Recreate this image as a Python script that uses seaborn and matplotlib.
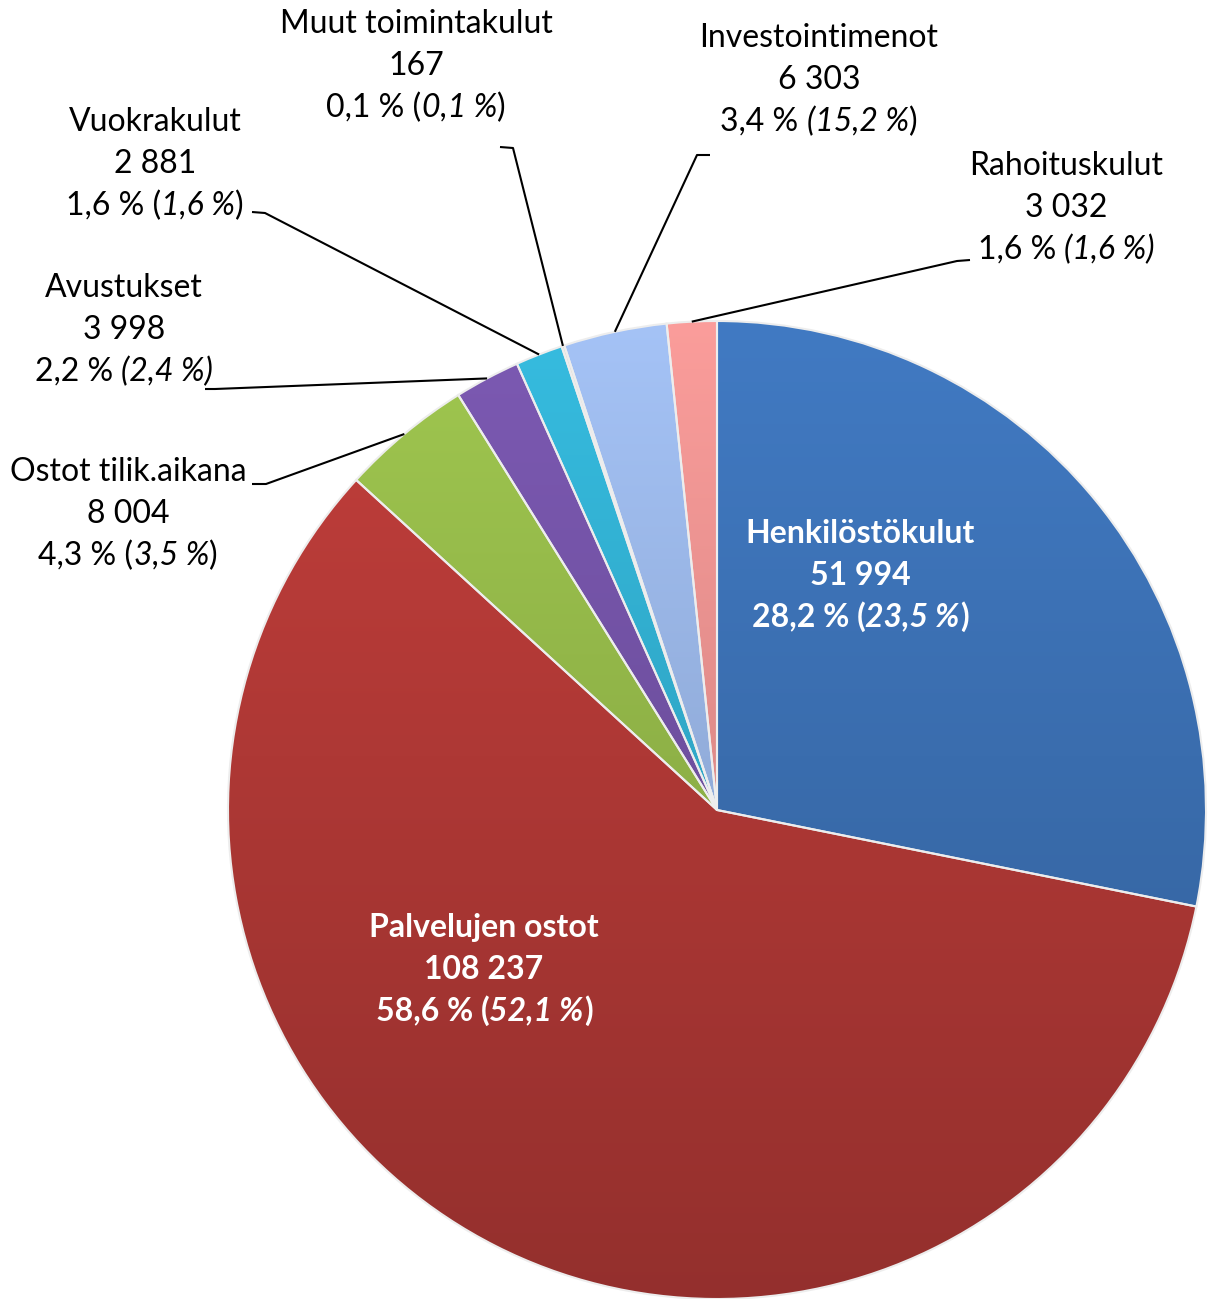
import matplotlib
matplotlib.use('Agg')
import matplotlib.pyplot as plt
import matplotlib.colors as mcolors
import seaborn as sns
import numpy as np

# data
categories = ['Henkilöstökulut', 'Palvelujen ostot', 'Ostot tilik.aikana', 'Avustukset',
              'Vuokrakulut', 'Muut toimintakulut', 'Investointimenot', 'Rahoituskulut']
values = [51994, 108237, 8004, 3998, 2881, 167, 6303, 3032]
value_labels = ['51 994', '108 237', '8 004', '3 998', '2 881', '167', '6 303', '3 032']
shares = ['28,2 %', '58,6 %', '4,3 %', '2,2 %', '1,6 %', '0,1 %', '3,4 %', '1,6 %']
prev_shares = ['23,5 %', '52,1 %', '3,5 %', '2,4 %', '1,6 %', '0,1 %', '15,2 %', '1,6 %']
# how the previous-year share is italicised in each label
italic_mode = ['inner', 'inner', 'inner', 'paren', 'inner', 'inner', 'open', 'paren']

colors = ['#3A6DAE', '#AE3835', '#8FB247', '#6F50A0', '#30A8C8', '#C9C2B4', '#93AEDC', '#E08C8A']

W, H = 1213, 1299
CX, CY, R = 717, 810, 489

# label block centres (middle line) in pixels, inside flag
label_pos = [(860, 575), (484, 969), (128, 514), (124, 330), (155, 164), (416, 66), (819, 80), (1066, 208)]
inside = [True, True, False, False, False, False, False, False]
# leader lines: start near the text and the kink, end at wedge edge
leader_pts = [None, None,
              [(252, 484), (266, 484)],
              [(205, 389), (215, 389)],
              [(252, 212), (265, 213)],
              [(500, 147), (513, 148)],
              [(710, 155), (697, 155)],
              [(970, 260), (957, 261)]]

sns.set_theme(style='white')
plt.rcParams['font.family'] = ['Lato', 'DejaVu Sans']

fig = plt.figure(figsize=(W / 100, H / 100), dpi=100)
ax = fig.add_axes([0, 0, 1, 1])

wedges, _ = ax.pie(values, colors=colors, startangle=-90, counterclock=True,
                   center=(CX, CY), radius=R, frame=True,
                   wedgeprops=dict(edgecolor='#EDEDED', linewidth=1.5))
ax.set_xlim(0, W)
ax.set_ylim(H, 0)
ax.axis('off')

# soft top-to-bottom shading inside each wedge
rows = np.linspace(CY - R, CY + R, 400)
shade = 1.12 - 0.27 * (rows - (CY - R)) / (2 * R)
for w, c in zip(wedges, colors):
    rgb = np.array(mcolors.to_rgb(c))
    img = np.clip(shade[:, None, None] * rgb[None, None, :], 0, 1)
    im = ax.imshow(img, extent=(CX - R, CX + R, CY + R, CY - R), aspect='auto',
                   interpolation='bilinear', zorder=1.5)
    im.set_clip_path(w)
    w.set_facecolor('none')
    w.set_zorder(2)
ax.set_xlim(0, W)
ax.set_ylim(H, 0)

renderer = fig.canvas.get_renderer()
FS = 23
LH = 42


def draw_line(x, y, parts, color, weight):
    texts, widths = [], []
    for s, it in parts:
        t = ax.text(0, y, s, ha='left', va='center', fontsize=FS, color=color,
                    fontweight=weight, fontstyle='italic' if it else 'normal', zorder=4)
        widths.append(t.get_window_extent(renderer=renderer).width)
        texts.append(t)
    left = x - sum(widths) / 2
    for t, w in zip(texts, widths):
        t.set_x(left)
        left += w


for i, cat in enumerate(categories):
    x, y = label_pos[i]
    color = 'white' if inside[i] else 'black'
    weight = 'bold' if inside[i] else 'normal'
    draw_line(x, y - LH, [(cat, False)], color, weight)
    draw_line(x, y, [(value_labels[i], False)], color, weight)
    mode = italic_mode[i]
    if mode == 'inner':
        parts = [(shares[i] + ' (', False), (prev_shares[i], True), (')', False)]
    elif mode == 'paren':
        parts = [(shares[i] + ' ', False), ('(' + prev_shares[i] + ')', True)]
    else:
        parts = [(shares[i] + ' ', False), ('(' + prev_shares[i], True), (')', False)]
    draw_line(x, y + LH, parts, color, weight)

    if leader_pts[i] is not None:
        w = wedges[i]
        mid = np.deg2rad((w.theta1 + w.theta2) / 2)
        ex = w.center[0] + w.r * np.cos(mid)
        ey = w.center[1] + w.r * np.sin(mid)
        pts = leader_pts[i] + [(ex, ey)]
        ax.plot([p[0] for p in pts], [p[1] for p in pts], color='black', lw=1.5,
                solid_capstyle='butt', zorder=3)

fig.savefig('out.png', dpi=100, facecolor='white')
